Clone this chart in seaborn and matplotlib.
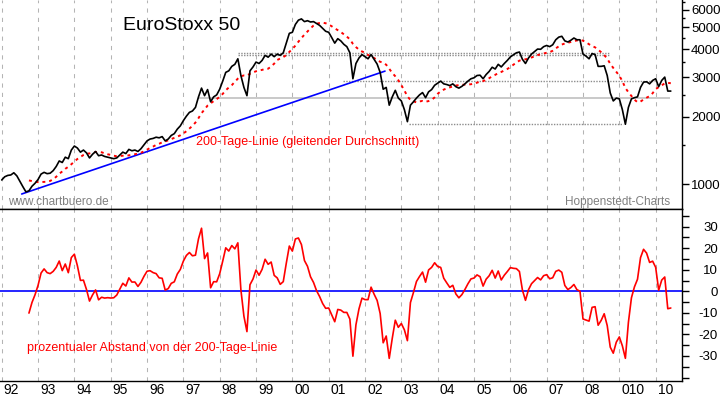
import numpy as np
import pandas as pd
import seaborn as sns
import matplotlib.pyplot as plt
import matplotlib.transforms as mtransforms
from matplotlib.ticker import FixedLocator, NullFormatter, FuncFormatter

# EuroStoxx 50, monthly values (Jan 1992 .. Jun 2010)
stoxx_1992 = [1045, 1080, 1095, 1100, 1125, 1090, 1030, 975, 925, 935, 980, 1010]
stoxx_1993 = [1050, 1110, 1130, 1115, 1120, 1150, 1200, 1270, 1250, 1320, 1300, 1420]
stoxx_1994 = [1480, 1450, 1390, 1420, 1380, 1310, 1360, 1400, 1340, 1350, 1330, 1320]
stoxx_1995 = [1310, 1300, 1310, 1350, 1390, 1370, 1430, 1410, 1420, 1400, 1440, 1500]
stoxx_1996 = [1560, 1590, 1600, 1620, 1610, 1630, 1560, 1590, 1650, 1680, 1760, 1820]
stoxx_1997 = [1920, 2010, 2090, 2120, 2200, 2450, 2680, 2480, 2640, 2330, 2450, 2500]
stoxx_1998 = [2650, 2880, 3150, 3200, 3350, 3420, 3620, 3050, 2700, 2480, 3200, 3330]
stoxx_1999 = [3500, 3450, 3560, 3750, 3680, 3800, 3700, 3800, 3750, 3850, 4250, 4700]
stoxx_2000 = [4750, 5150, 5380, 5450, 5300, 5350, 5280, 5300, 5200, 5100, 4950, 4800]
stoxx_2001 = [4750, 4500, 4250, 4450, 4350, 4200, 4100, 3850, 2950, 3450, 3650, 3780]
stoxx_2002 = [3700, 3620, 3780, 3600, 3430, 3150, 2650, 2700, 2250, 2450, 2620, 2420]
stoxx_2003 = [2350, 2150, 1900, 2250, 2330, 2420, 2500, 2560, 2430, 2580, 2640, 2760]
stoxx_2004 = [2820, 2880, 2800, 2780, 2750, 2800, 2720, 2680, 2730, 2800, 2880, 2950]
stoxx_2005 = [2980, 3050, 3060, 2950, 3080, 3180, 3320, 3260, 3420, 3330, 3450, 3560]
stoxx_2006 = [3690, 3770, 3850, 3880, 3600, 3450, 3650, 3800, 3900, 4000, 3990, 4100]
stoxx_2007 = [4150, 4100, 4180, 4400, 4520, 4560, 4350, 4300, 4380, 4480, 4400, 4400]
stoxx_2008 = [3800, 3720, 3620, 3820, 3780, 3350, 3350, 3370, 3050, 2550, 2350, 2420]
stoxx_2009 = [2400, 2150, 1850, 2200, 2400, 2430, 2450, 2700, 2850, 2860, 2800, 2900]
stoxx_2010 = [2950, 2720, 2900, 3000, 2600, 2600]

# blue trend line (start / end)
trend_years = [1992.55, 2002.55]
trend_values = [905, 3190]

# grey support / resistance levels: value, from, to
level_values = [3840, 3765, 2885, 1862]
level_start = [1998.50, 1998.50, 2001.39, 2003.21]
level_end = [2008.74, 2008.74, 2009.98, 2009.10]
solid_level = 2428
solid_start, solid_end = 1997.40, 2010.40

year_ticks = list(range(1992, 2011))
year_labels = ["92", "93", "94", "95", "96", "97", "98", "99", "00", "01",
               "02", "03", "04", "05", "06", "07", "08", "010", "10"]
price_ticks = [1000, 2000, 3000, 4000, 5000, 6000]
price_minor = [1500, 2500, 3500, 4500, 5500, 6500]
pct_ticks = [-30, -20, -10, 0, 10, 20, 30]
pct_minor = [-40, -35, -25, -15, -5, 5, 15, 25, 35]

prices = (stoxx_1992 + stoxx_1993 + stoxx_1994 + stoxx_1995 + stoxx_1996 + stoxx_1997
          + stoxx_1998 + stoxx_1999 + stoxx_2000 + stoxx_2001 + stoxx_2002 + stoxx_2003
          + stoxx_2004 + stoxx_2005 + stoxx_2006 + stoxx_2007 + stoxx_2008 + stoxx_2009
          + stoxx_2010)
df = pd.DataFrame({"year": 1992 + np.arange(len(prices)) / 12, "price": prices})
df["ma200"] = df["price"].rolling(10).mean()
df["abstand"] = (df["price"] / df["ma200"] - 1) * 100

sns.set_style("white")
plt.rcParams["font.family"] = ["Liberation Sans", "DejaVu Sans"]

fig = plt.figure(figsize=(7.23, 3.97), dpi=100)
W, H = 723, 397
ax1 = fig.add_axes([0, 1 - 209 / H, 682 / W, 209 / H])
ax2 = fig.add_axes([0, 16 / H, 682 / W, 172 / H])

grid_kw = dict(color="#b4b4b4", lw=0.75, ls=(0, (4, 5)))
for ax in (ax1, ax2):
    ax.set_xlim(1991.953, 2010.725)
    ax.set_xticks(year_ticks)
    ax.grid(False)
    for yr in year_ticks:
        ax.axvline(yr, zorder=0, **grid_kw)
    ax.spines["left"].set_visible(False)
    for s in ("right", "bottom", "top"):
        ax.spines[s].set_color("black")
        ax.spines[s].set_linewidth(1)
    ax.yaxis.tick_right()
ax1.spines["top"].set_visible(False)

# --- top panel
ax1.set_yscale("log")
ax1.hlines(level_values, level_start, level_end, colors="#8c8c8c", lw=1, linestyles=(0, (1, 1)), zorder=1)
ax1.hlines(solid_level, solid_start, solid_end, colors="#c0c0c0", lw=1.2, zorder=1)
sns.lineplot(x=trend_years, y=trend_values, ax=ax1, color="blue", lw=1.2, zorder=2)
sns.lineplot(data=df, x="year", y="ma200", ax=ax1, color="red", lw=1.4, linestyle=(0, (1.5, 2)), zorder=3)
sns.lineplot(data=df, x="year", y="price", ax=ax1, color="black", lw=1.2, zorder=4)
ax1.set_ylim(776, 6615)
ax1.yaxis.set_major_locator(FixedLocator(price_ticks))
ax1.yaxis.set_minor_locator(FixedLocator(price_minor))
ax1.yaxis.set_major_formatter(FuncFormatter(lambda v, p: f"{v:.0f}"))
ax1.yaxis.set_minor_formatter(NullFormatter())
ax1.tick_params(axis="y", which="major", direction="out", length=5, width=1, pad=1.5,
                labelsize=9.5, colors="black")
ax1.tick_params(axis="y", which="minor", direction="out", length=2.5, width=1, colors="black")
ax1.tick_params(axis="x", length=0, labelbottom=False)
ax1.set_xlabel("")
ax1.set_ylabel("")

ax1.text(0.267, 0.880, "EuroStoxx 50", transform=ax1.transAxes, ha="center", va="center",
         fontsize=14, color="black")
ax1.text(0.287, 0.32, "200-Tage-Linie (gleitender Durchschnitt)", transform=ax1.transAxes,
         ha="left", va="center", fontsize=9, color="red")
ax1.text(0.012, 0.033, "www.chartbuero.de", transform=ax1.transAxes, ha="left", va="center",
         fontsize=8.5, color="#808080")
ax1.text(0.982, 0.033, "Hoppenstedt-Charts", transform=ax1.transAxes, ha="right", va="center",
         fontsize=8.5, color="#808080")

# --- bottom panel
ax2.axhline(0, color="blue", lw=1.2, zorder=2)
sns.lineplot(data=df, x="year", y="abstand", ax=ax2, color="red", lw=1.2, zorder=3)
ax2.set_ylim(-41.6, 38.2)
ax2.yaxis.set_major_locator(FixedLocator(pct_ticks))
ax2.yaxis.set_minor_locator(FixedLocator(pct_minor))
ax2.yaxis.set_major_formatter(FuncFormatter(lambda v, p: f"{v:.0f}"))
ax2.tick_params(axis="y", which="both", direction="out", length=5, width=1, colors="black")
ax2.tick_params(axis="y", which="major", pad=21, labelsize=9.5)
plt.setp(ax2.get_yticklabels(), ha="right")
ax2.set_xticklabels(year_labels)
ax2.tick_params(axis="x", direction="out", length=11.5, width=1, pad=-10, labelsize=10,
                colors="black")
shift = mtransforms.ScaledTranslation(2 / 100, 0, fig.dpi_scale_trans)
for lab in ax2.get_xticklabels():
    lab.set_ha("left")
    lab.set_transform(lab.get_transform() + shift)
ax2.set_xlabel("")
ax2.set_ylabel("")
ax2.text(0.04, 0.192, "prozentualer Abstand von der 200-Tage-Linie", transform=ax2.transAxes,
         ha="left", va="center", fontsize=9, color="red")

fig.savefig("out.png", dpi=100)
